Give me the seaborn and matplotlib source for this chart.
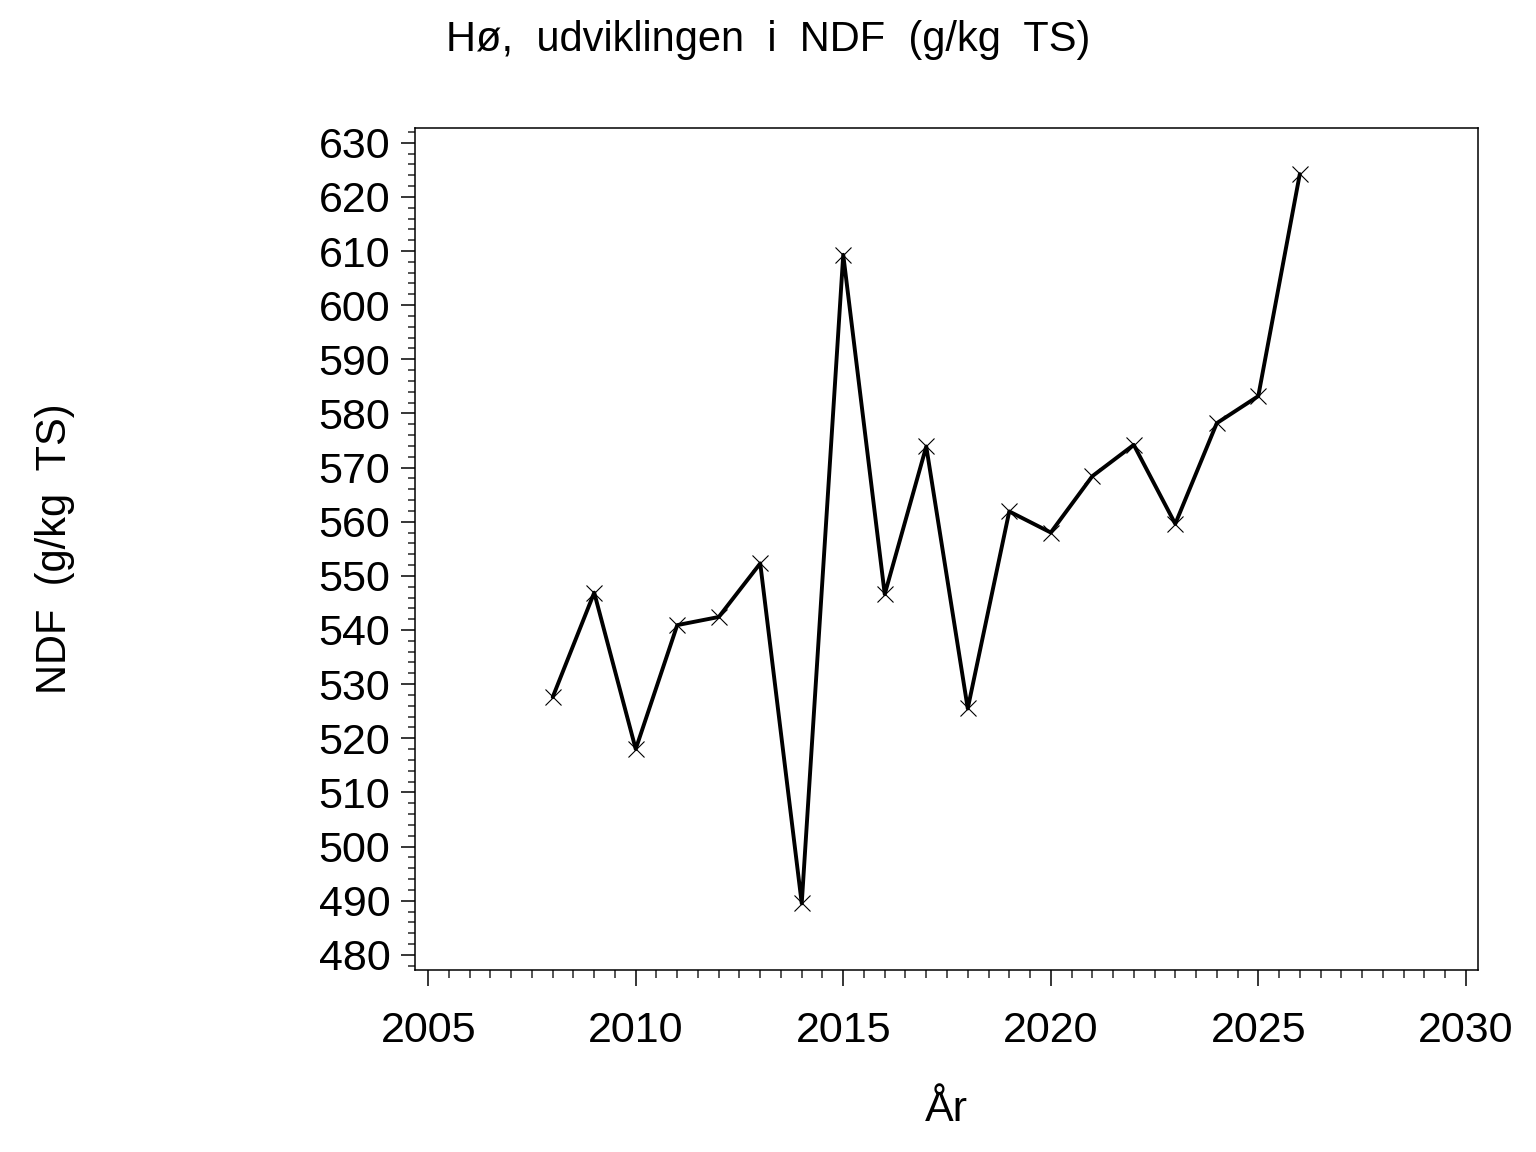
import matplotlib
matplotlib.use("Agg")
import matplotlib.pyplot as plt
import seaborn as sns
import pandas as pd
from matplotlib.ticker import MultipleLocator

years = list(range(2008, 2027))
ndf = [527.6, 546.9, 518.0, 540.9, 542.4, 552.3, 489.5, 609.3, 546.6, 573.9,
       525.5, 561.9, 558.0, 568.4, 574.2, 559.6, 578.2, 583.2, 624.2]

title = "Hø,  udviklingen  i  NDF  (g/kg  TS)"
xlabel = "År"
ylabel = "NDF  (g/kg  TS)"

df = pd.DataFrame({"year": years, "ndf": ndf})

sns.set_style("ticks")
plt.rcParams["font.family"] = ["Liberation Sans", "DejaVu Sans"]
plt.rcParams["text.color"] = "black"
plt.rcParams["axes.labelcolor"] = "black"

fig = plt.figure(figsize=(15.36, 11.52), dpi=100)
ax = fig.add_axes([0.2704, 0.158, 0.6920, 0.7306])

sns.lineplot(data=df, x="year", y="ndf", ax=ax, color="black", linewidth=2.8,
             marker="x", markersize=12, markeredgewidth=0.8,
             markeredgecolor="black")

ax.set_xlim(2004.69, 2030.30)
ax.set_ylim(477.2, 632.66)
ax.xaxis.set_major_locator(MultipleLocator(5))
ax.xaxis.set_minor_locator(MultipleLocator(0.5))
ax.yaxis.set_major_locator(MultipleLocator(10))
ax.yaxis.set_minor_locator(MultipleLocator(2))

for s in ax.spines.values():
    s.set_visible(True)
    s.set_linewidth(1.1)
    s.set_color("black")

ax.tick_params(axis="x", which="major", length=11.5, width=1.1, pad=18,
               labelsize=31, direction="out", colors="black")
ax.tick_params(axis="x", which="minor", length=6, width=1.1, direction="out")
ax.tick_params(axis="y", which="major", length=10, width=1.1, pad=8,
               labelsize=31, direction="out", colors="black")
ax.tick_params(axis="y", which="minor", length=5, width=1.1, direction="out")
ax.tick_params(top=False, right=False, which="both")

ax.set_xlabel(xlabel, fontsize=31, color="black")
ax.set_ylabel(ylabel, fontsize=30, color="black")
ax.xaxis.set_label_coords(0.5, -0.1663)
ax.xaxis.label.set_va("center")
ax.yaxis.set_label_coords(-0.339, 0.5)
ax.yaxis.label.set_va("center")

fig.text(0.5, 1 - 40 / 1152, title, ha="center", va="center", fontsize=30,
         color="black")

fig.savefig("out.png", dpi=100)
